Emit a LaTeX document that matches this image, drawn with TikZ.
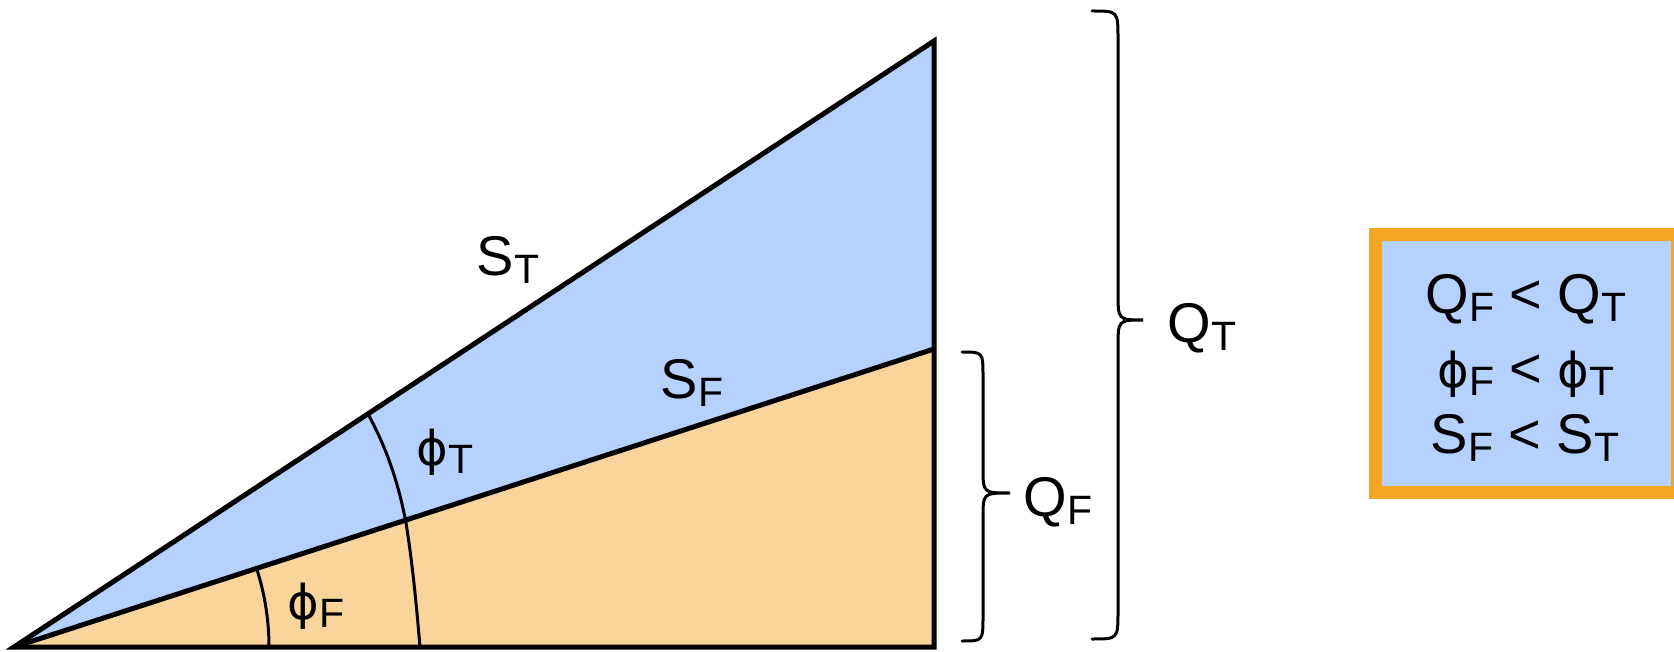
\documentclass[tikz,border=0pt]{standalone}
\usepackage{fontspec}
\setmainfont{Liberation Sans}
\newfontfamily\phifont{DejaVu Sans}
\definecolor{skyfill}{RGB}{180,209,255}
\definecolor{peachfill}{RGB}{250,213,155}
\definecolor{boxorange}{RGB}{245,166,35}
\newcommand{\bigsz}{\fontsize{56}{64}\selectfont}
\newcommand{\mysub}[1]{\raisebox{-8pt}{\fontsize{41}{48}\selectfont #1}}
\newcommand{\mylab}[2]{{\bigsz #1\mysub{#2}}}
\newcommand{\myphi}{{\phifont\fontsize{48}{56}\selectfont ϕ}}
\begin{document}
\begin{tikzpicture}[x=1pt,y=-1pt,
  edge/.style={line width=5pt,line join=miter},
  arcline/.style={line width=3pt},
  bracel/.style={line width=3pt,line cap=round},
  lbl/.style={inner sep=0pt,anchor=center}]
\useasboundingbox (0,0) rectangle (1674,652);
% corner points
\coordinate (apex) at (14,647);
\coordinate (br) at (934,647);
\coordinate (mr) at (934,349);
\coordinate (tr) at (934,41);
% fills
\fill[peachfill] (apex) -- (br) -- (mr) -- cycle;
\fill[skyfill] (apex) -- (mr) -- (tr) -- cycle;
% angle arcs
\draw[arcline] (269,647) arc[start angle=0,end angle=-17.9,radius=255];
\draw[arcline] (420,647) .. controls (416,600) and (412,560) .. (406,523) .. controls (398,480) and (385,445) .. (368,414);
% outlines
\draw[edge] (apex) -- (br) -- (tr) -- cycle;
\draw[edge] (apex) -- (mr);
% braces
\draw[bracel] (962,352) .. controls (983,352) .. (983,377) -- (983,468) .. controls (983,493) .. (1010,493)
   .. controls (983,493) .. (983,518) -- (983,616) .. controls (983,641) .. (962,641);
\draw[bracel] (1092,11) .. controls (1118,11) .. (1118,39) -- (1118,292) .. controls (1118,320) .. (1143,320)
   .. controls (1118,320) .. (1118,348) -- (1118,611) .. controls (1118,639) .. (1092,639);
% labels
\node[lbl] (st) at (508,260) {\mylab{S}{T}};
\node[lbl] (sf) at (692,383) {\mylab{S}{F}};
\node[lbl] (pt) at (445,452) {\myphi\mysub{T}};
\node[lbl] (pf) at (316,606) {\myphi\mysub{F}};
\node[lbl] (qf) at (1058,502) {\mylab{Q}{F}};
\node[lbl] (qt) at (1202,328) {\mylab{Q}{T}};
% summary box
\draw[boxorange,fill=skyfill,line width=13pt] (1375.5,235) rectangle (1677,492.5);
\node[lbl] (l1) at (1526,299) {\bigsz Q\mysub{F} < Q\mysub{T}};
\node[lbl] (l2) at (1526,374) {\bigsz \myphi\mysub{F} < \myphi\mysub{T}};
\node[lbl] (l3) at (1525,438) {\bigsz S\mysub{F} < S\mysub{T}};
\end{tikzpicture}
\end{document}
